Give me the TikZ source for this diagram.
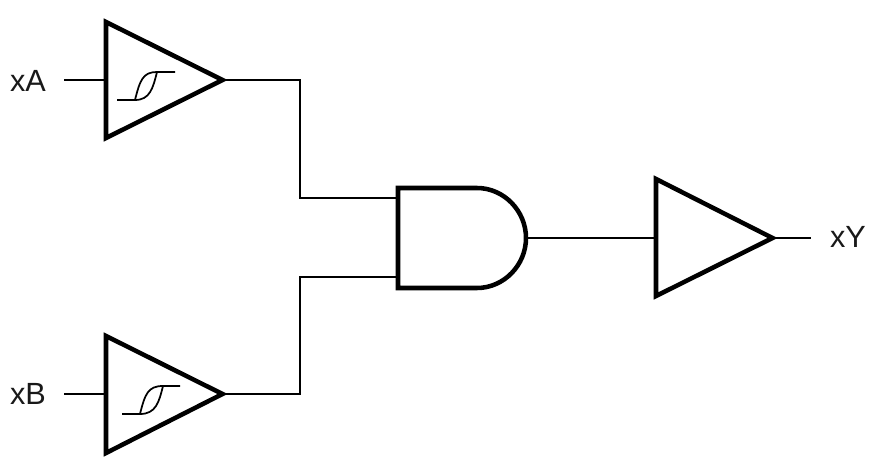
\documentclass[tikz,border=0pt]{standalone}
\usepackage{fontspec}
\setmainfont{Liberation Sans}
\tikzset{
  px/.style={x=0.75pt,y=-0.75pt},
  gateshape/.style={line width=3.4pt,line join=miter,fill=white},
  wire/.style={line width=1.5pt},
  hyst/.style={line width=1.3pt},
  pinlabel/.style={inner sep=0pt,font=\fontsize{23pt}{26pt}\selectfont,text=black!90}
}
\begin{document}
\begin{tikzpicture}[px]
\useasboundingbox (0,0) rectangle (875,470);
% pins
\coordinate (Aend) at (64,80);
\coordinate (Ain) at (106,80);
\coordinate (Aout) at (222.5,80);
\coordinate (Bend) at (64,394);
\coordinate (Bin) at (106,394);
\coordinate (Bout) at (222.5,394);
\coordinate (Gin1) at (398,198);
\coordinate (Gin2) at (398,277);
\coordinate (Gout) at (526,238);
\coordinate (Cin) at (656,238);
\coordinate (Cout) at (772.5,238);
\coordinate (Yend) at (811,238);
% connectors
\draw[wire] (Aend) -- (Ain);
\draw[wire] (Bend) -- (Bin);
\draw[wire] (Aout) -| (300,198) -- (Gin1);
\draw[wire] (Bout) -| (300,277) -- (Gin2);
\draw[wire] (Gout) -- (Cin);
\draw[wire] (Cout) -- (Yend);
% buffers
\draw[gateshape] (106,22) -- (Aout) -- (106,138) -- cycle;
\draw[gateshape] (106,336) -- (Bout) -- (106,453) -- cycle;
\draw[gateshape] (656,179) -- (Cout) -- (656,296) -- cycle;
% and gate
\draw[gateshape] (398,188) -- (477,188) .. controls (504,188) and (526,211) .. (Gout)
  .. controls (526,265) and (504,288) .. (477,288) -- (398,288) -- cycle;
% hysteresis symbols
\draw[hyst] (117,100) -- (135,100) .. controls (140,80) and (143,72) .. (157,72) -- (175,72);
\draw[hyst] (135,100) .. controls (150,100) and (153,88) .. (157,72);
\draw[hyst] (122,414) -- (140,414) .. controls (145,394) and (148,386) .. (163,386) -- (180,386);
\draw[hyst] (140,414) .. controls (156,414) and (159,402) .. (163,386);
% labels
\node[pinlabel] (xA) at (28,81) {xA};
\node[pinlabel] (xB) at (28,394) {xB};
\node[pinlabel] (xY) at (848,237) {xY};
\end{tikzpicture}
\end{document}
